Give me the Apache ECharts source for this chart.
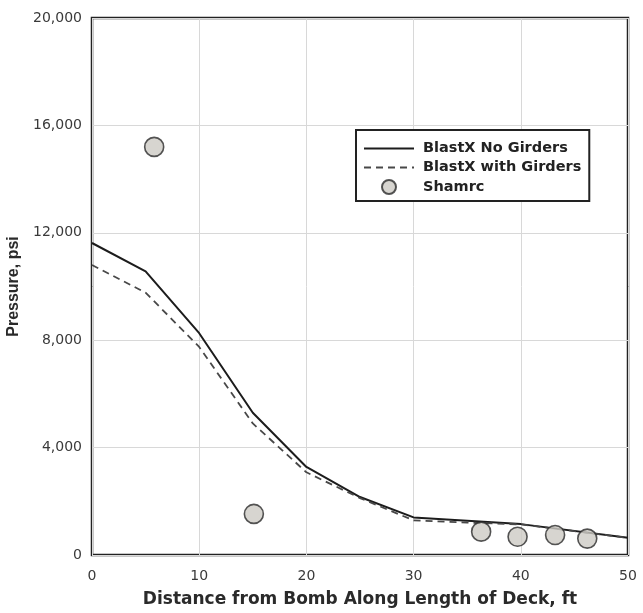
<!DOCTYPE html>
<html>
<head>
<meta charset="utf-8">
<script src="https://cdn.jsdelivr.net/npm/echarts@6/dist/echarts.min.js"></script>
<style>
  html, body { margin: 0; padding: 0; background: #fff; }
  #chart { width: 643px; height: 613px; }
</style>
</head>
<body>
<div id="chart"></div>
<script>
// Distance from the bomb along the deck (ft)
const distance = [0, 5, 10, 15, 20, 25, 30, 35, 40, 50];
// BlastX predictions (psi)
const noGirders = [11620, 10560, 8260, 5300, 3280, 2160, 1400, 1275, 1150, 640];
const withGirders = [10800, 9770, 7750, 4900, 3080, 2120, 1290, 1210, 1140, 640];
// Shamrc results: distance (ft) and pressure (psi)
const shamrcX = [5.8, 15.1, 36.3, 39.7, 43.2, 46.2];
const shamrcY = [15200, 1530, 870, 680, 745, 610];

const seriesNames = ['BlastX No Girders', 'BlastX with Girders', 'Shamrc'];
const xTitle = 'Distance from Bomb Along Length of Deck, ft';
const yTitle = 'Pressure, psi';

const chart = echarts.init(document.getElementById('chart'), null, { renderer: 'canvas' });

const tickFont = { fontFamily: 'DejaVu Sans', fontSize: 14, color: '#3a3a3a' };

chart.setOption({
  animation: false,
  backgroundColor: '#ffffff',
  grid: {
    left: 92, right: 15, top: 18, bottom: 58,
    outerBoundsMode: 'none',
    containLabel: false,
    show: true, borderColor: '#222', borderWidth: 2.5
  },
  legend: {
    orient: 'vertical',
    left: 356, top: 130,
    data: [
      { name: seriesNames[0], itemStyle: { opacity: 0 } },
      { name: seriesNames[1], itemStyle: { opacity: 0 } },
      { name: seriesNames[2] }
    ],
    itemWidth: 50, itemHeight: 14, itemGap: 4,
    padding: [11, 8, 6, 7],
    borderColor: '#222', borderWidth: 2,
    backgroundColor: '#fff',
    textStyle: {
      fontFamily: 'DejaVu Sans', fontWeight: 'bold', fontSize: 14.5, color: '#222',
      padding: [0, 0, 0, 4]
    }
  },
  xAxis: {
    type: 'value', min: 0, max: 50, interval: 10,
    name: xTitle, nameLocation: 'middle', nameGap: 36,
    nameTextStyle: { fontFamily: 'DejaVu Sans', fontWeight: 'bold', fontSize: 17, color: '#2a2a2a' },
    axisLine: { show: false },
    axisTick: { show: false },
    axisLabel: Object.assign({ margin: 14 }, tickFont),
    splitLine: { show: true, lineStyle: { color: '#d8d8d8', width: 1 } }
  },
  yAxis: {
    type: 'value', min: 0, max: 20000, interval: 4000,
    name: yTitle, nameLocation: 'middle', nameGap: 70,
    nameTextStyle: { fontFamily: 'Liberation Sans', fontWeight: 'bold', fontSize: 16, color: '#2a2a2a' },
    axisLine: { show: false },
    axisTick: { show: false },
    axisLabel: Object.assign({
      margin: 10,
      formatter: v => v.toLocaleString('en-US')
    }, tickFont),
    splitLine: { show: true, lineStyle: { color: '#d8d8d8', width: 1 } }
  },
  series: [
    {
      name: seriesNames[0], type: 'line', symbol: 'none',
      data: distance.map((d, i) => [d, noGirders[i]]),
      lineStyle: { color: '#1c1c1c', width: 2 },
      itemStyle: { color: '#1c1c1c' }
    },
    {
      name: seriesNames[1], type: 'line', symbol: 'none',
      data: distance.map((d, i) => [d, withGirders[i]]),
      lineStyle: { color: '#484848', width: 1.8, type: [7, 5] },
      itemStyle: { color: '#484848' }
    },
    {
      name: seriesNames[2], type: 'scatter', symbol: 'circle', symbolSize: 19,
      data: shamrcX.map((d, i) => [d, shamrcY[i]]),
      itemStyle: { color: '#cdcac4', borderColor: '#2a2a2a', borderWidth: 1.6 },
      z: 5
    }
  ]
});
</script>
</body>
</html>
